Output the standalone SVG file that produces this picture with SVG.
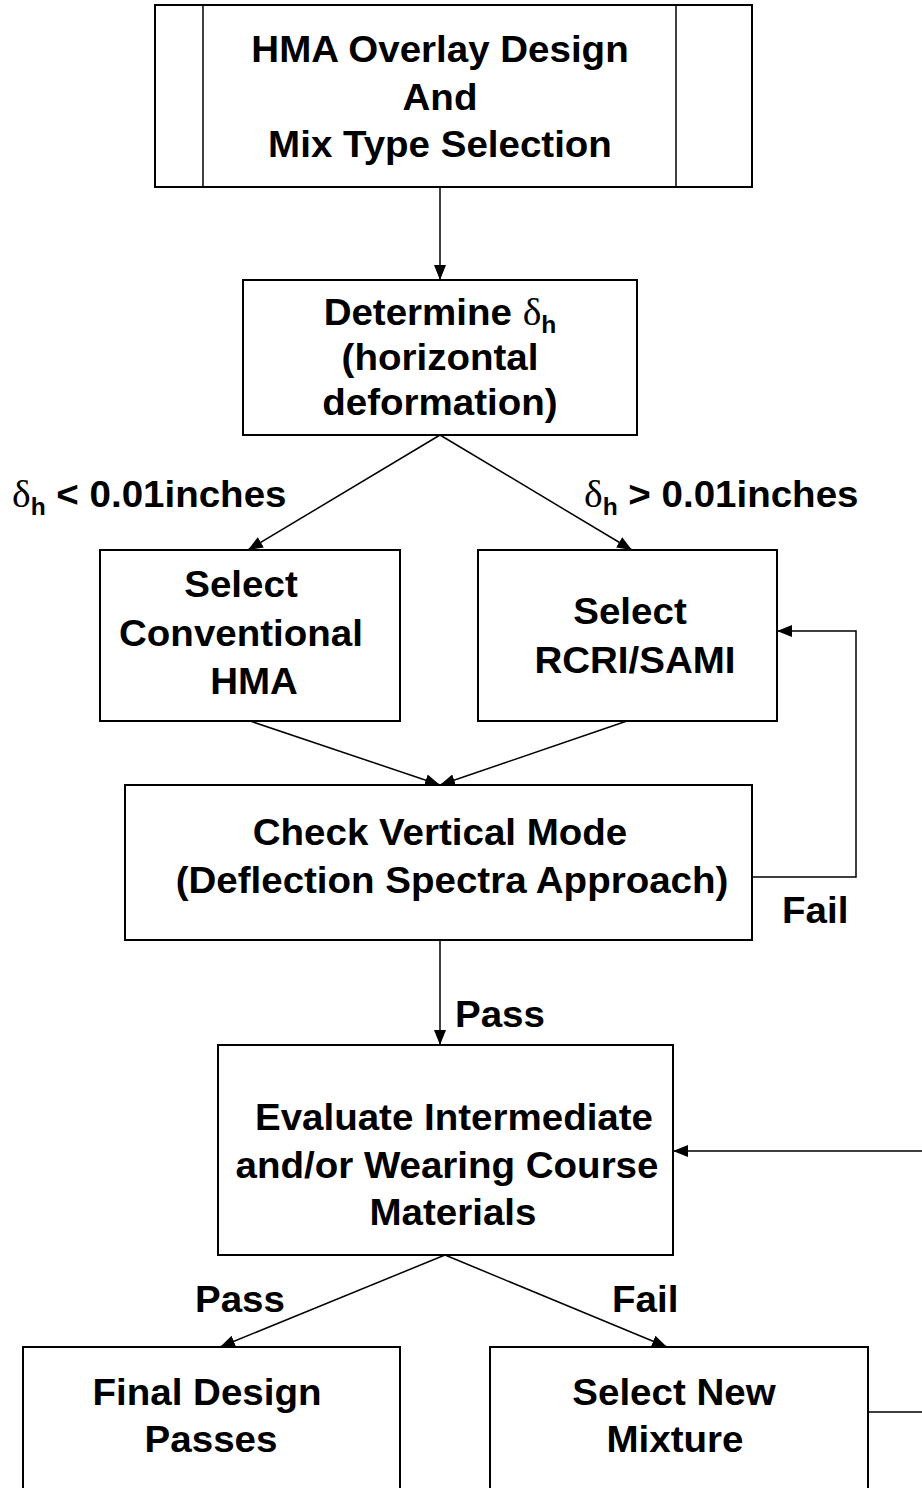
<svg xmlns="http://www.w3.org/2000/svg" width="922" height="1488" viewBox="0 0 922 1488">
<defs>
<style>
.box{fill:#fff;stroke:#000;stroke-width:2}
.ln{fill:none;stroke:#000;stroke-width:1.5}
.t,.l{font-family:"Liberation Sans",Arial,sans-serif;font-weight:bold;font-size:36px;fill:#000;transform-box:fill-box;transform:scaleX(1.07)}
.t{text-anchor:middle;transform-origin:50% 50%}
.l{transform-origin:0 50%}
.d{font-family:"Liberation Serif","Times New Roman",serif;font-weight:normal;font-size:37px}
.s{font-size:23px}
</style>
<marker id="ah" markerUnits="userSpaceOnUse" markerWidth="16" markerHeight="12" refX="15" refY="6" orient="auto">
<path d="M0,0 L15,6 L0,12 Z" fill="#000"/>
</marker>
</defs>
<rect width="922" height="1488" fill="#fff"/>
<g id="connectors">
<line class="ln" x1="440" y1="187" x2="440" y2="280" marker-end="url(#ah)"/>
<line class="ln" x1="440" y1="435" x2="248" y2="550" marker-end="url(#ah)"/>
<line class="ln" x1="440" y1="435" x2="632" y2="550" marker-end="url(#ah)"/>
<line class="ln" x1="250" y1="721" x2="440" y2="785" marker-end="url(#ah)"/>
<line class="ln" x1="627" y1="721" x2="440" y2="785" marker-end="url(#ah)"/>
<polyline class="ln" points="752,877 856,877 856,631 777,631" marker-end="url(#ah)"/>
<line class="ln" x1="440" y1="940" x2="440" y2="1045" marker-end="url(#ah)"/>
<line class="ln" x1="445" y1="1255" x2="220" y2="1347" marker-end="url(#ah)"/>
<line class="ln" x1="445" y1="1255" x2="667" y2="1347" marker-end="url(#ah)"/>
<polyline class="ln" points="868,1412 940,1412 940,1151 673,1151" marker-end="url(#ah)"/>
</g>
<g id="n1">
<rect class="box" x="155" y="5" width="597" height="182"/>
<line class="ln" x1="203" y1="5" x2="203" y2="187"/>
<line class="ln" x1="676" y1="5" x2="676" y2="187"/>
<text class="t" x="440" y="62">HMA Overlay Design</text>
<text class="t" x="440" y="110">And</text>
<text class="t" x="440" y="157">Mix Type Selection</text>
</g>
<g id="n2">
<rect class="box" x="243" y="280" width="394" height="155"/>
<text class="t" x="440" y="325">Determine <tspan class="d">δ</tspan><tspan class="s" dy="8">h</tspan></text>
<text class="t" x="440" y="370">(horizontal</text>
<text class="t" x="440" y="415">deformation)</text>
</g>
<g id="lab1">
<text class="l" x="12" y="507"><tspan class="d">δ</tspan><tspan class="s" dy="8">h</tspan><tspan dy="-8"> &lt; 0.01inches</tspan></text>
<text class="l" x="584" y="507"><tspan class="d">δ</tspan><tspan class="s" dy="8">h</tspan><tspan dy="-8"> &gt; 0.01inches</tspan></text>
</g>
<g id="n3">
<rect class="box" x="100" y="550" width="300" height="171"/>
<text class="t" x="241" y="597">Select</text>
<text class="t" x="241" y="646">Conventional</text>
<text class="t" x="254" y="694">HMA</text>
</g>
<g id="n4">
<rect class="box" x="478" y="550" width="299" height="171"/>
<text class="t" x="630" y="624">Select</text>
<text class="t" x="635" y="673">RCRI/SAMI</text>
</g>
<g id="n5">
<rect class="box" x="125" y="785" width="627" height="155"/>
<text class="t" x="440" y="845">Check Vertical Mode</text>
<text class="t" x="452" y="893">(Deflection Spectra Approach)</text>
</g>
<g id="lab2">
<text class="l" x="782" y="923">Fail</text>
<text class="l" x="455" y="1027">Pass</text>
</g>
<g id="n6">
<rect class="box" x="218" y="1045" width="455" height="210"/>
<text class="t" x="454" y="1130">Evaluate Intermediate</text>
<text class="t" x="447" y="1178">and/or Wearing Course</text>
<text class="t" x="453" y="1225">Materials</text>
</g>
<g id="lab3">
<text class="l" x="195" y="1312">Pass</text>
<text class="l" x="612" y="1312">Fail</text>
</g>
<g id="n7">
<rect class="box" x="23" y="1347" width="377" height="160"/>
<text class="t" x="207" y="1405">Final Design</text>
<text class="t" x="211" y="1452">Passes</text>
</g>
<g id="n8">
<rect class="box" x="490" y="1347" width="378" height="160"/>
<text class="t" x="674" y="1405">Select New</text>
<text class="t" x="675" y="1452">Mixture</text>
</g>
</svg>
